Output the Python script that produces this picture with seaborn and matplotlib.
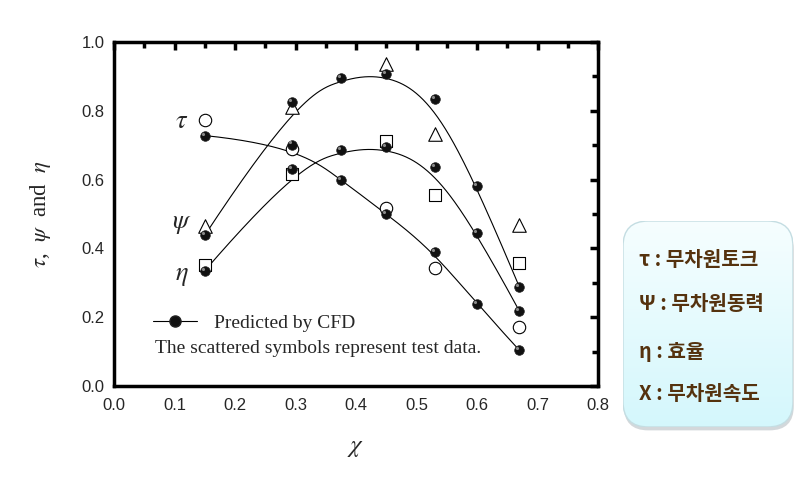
import numpy as np
import pandas as pd
import matplotlib
matplotlib.use("Agg")
import matplotlib.pyplot as plt
import seaborn as sns
from matplotlib.lines import Line2D
from matplotlib.patches import FancyBboxPatch

# ---------------- data ----------------
x_cfd = [0.15, 0.295, 0.375, 0.45, 0.53, 0.60, 0.67]
tau_cfd = [0.728, 0.702, 0.600, 0.500, 0.390, 0.238, 0.104]
psi_cfd = [0.438, 0.826, 0.896, 0.908, 0.834, 0.581, 0.288]
eta_cfd = [0.335, 0.630, 0.686, 0.694, 0.636, 0.444, 0.218]

x_test = [0.15, 0.295, 0.45, 0.53, 0.67]
tau_test = [0.772, 0.690, 0.516, 0.342, 0.172]
psi_test = [0.465, 0.810, 0.936, 0.732, 0.468]
eta_test = [0.353, 0.617, 0.712, 0.556, 0.357]

x_ticks = [0.0, 0.1, 0.2, 0.3, 0.4, 0.5, 0.6, 0.7, 0.8]
y_ticks = [0.0, 0.2, 0.4, 0.6, 0.8, 1.0]
box_lines = ["τ : 무차원토크", "Ψ : 무차원동력", "η : 효율", "X : 무차원속도"]


def bspline(xc, yc, n=300, k=3):
    """Clamped uniform B-spline using the points as control points."""
    xc = np.asarray(xc, float)
    yc = np.asarray(yc, float)
    m = len(xc)
    knots = np.concatenate([[0.0] * k, np.arange(m - k + 1, dtype=float), [float(m - k)] * k])
    t = np.linspace(0, m - k - 1e-9, n)

    def N(i, d):
        if d == 0:
            return ((knots[i] <= t) & (t < knots[i + 1])).astype(float)
        out = np.zeros_like(t)
        den1 = knots[i + d] - knots[i]
        den2 = knots[i + d + 1] - knots[i + 1]
        if den1 > 0:
            out += (t - knots[i]) / den1 * N(i, d - 1)
        if den2 > 0:
            out += (knots[i + d + 1] - t) / den2 * N(i + 1, d - 1)
        return out

    B = np.array([N(i, k) for i in range(m)])
    return B.T @ xc, B.T @ yc


# ---------------- style ----------------
sns.set_style("white")
plt.rcParams["font.family"] = ["Liberation Serif", "DejaVu Serif"]
plt.rcParams["mathtext.fontset"] = "stix"

fig = plt.figure(figsize=(8.12, 4.84), dpi=100)
ax = fig.add_axes([114 / 812, 1 - 386 / 484, (598 - 114) / 812, (386 - 42) / 484])

# smooth B-spline curves
for ys in (tau_cfd, psi_cfd, eta_cfd):
    cx, cy = bspline(x_cfd, ys)
    sns.lineplot(x=cx, y=cy, ax=ax, color="black", lw=0.8, zorder=2, sort=False,
                 estimator=None)

# CFD points (dark balls with a small highlight)
for ys in (tau_cfd, psi_cfd, eta_cfd):
    sns.scatterplot(x=x_cfd, y=ys, ax=ax, color="#111111", s=48, marker="o",
                    edgecolor="#222222", linewidth=0.5, zorder=4)
    sns.scatterplot(x=np.array(x_cfd) - 0.0035, y=np.array(ys) + 0.006, ax=ax,
                    color="#8a8a8a", s=5, marker="o", linewidth=0, zorder=5)

# test data
sns.scatterplot(x=x_test, y=tau_test, ax=ax, marker="o", s=80, facecolor="white",
                edgecolor="black", linewidth=0.8, zorder=3)
sns.scatterplot(x=x_test, y=psi_test, ax=ax, marker="^", s=95, facecolor="white",
                edgecolor="black", linewidth=0.8, zorder=3)
sns.scatterplot(x=x_test, y=eta_test, ax=ax, marker="s", s=70, facecolor="white",
                edgecolor="black", linewidth=0.8, zorder=3)

# axes
ax.set_xlim(0.0, 0.8)
ax.set_ylim(0.0, 1.0)
ax.set_xticks(x_ticks)
ax.set_yticks(y_ticks)
ax.set_xticks(np.arange(0.05, 0.8, 0.1), minor=True)
ax.set_yticks(np.arange(0.1, 1.0, 0.2), minor=True)
ax.set_xticklabels([f"{v:.1f}" for v in x_ticks], family="Liberation Sans", fontsize=12)
ax.set_yticklabels([f"{v:.1f}" for v in y_ticks], family="Liberation Sans", fontsize=12)
ax.tick_params(which="both", direction="in", top=True, right=True, width=2.5, color="black")
ax.tick_params(which="major", length=6)
ax.tick_params(axis="x", which="major", pad=9)
ax.tick_params(axis="y", which="major", pad=7)
ax.tick_params(which="minor", length=4)
for sp in ax.spines.values():
    sp.set_linewidth(2.5)
    sp.set_color("black")

ax.set_xlabel(r"$\chi$", fontsize=18, labelpad=17)
ax.set_ylabel(r"$\tau$,  $\psi$  and  $\eta$", fontsize=16.5, labelpad=20)

# curve labels
ax.text(0.112, 0.768, r"$\tau$", fontsize=19, ha="center", va="center")
ax.text(0.112, 0.468, r"$\psi$", fontsize=19, ha="center", va="center")
ax.text(0.112, 0.318, r"$\eta$", fontsize=19, ha="center", va="center")

# legend
handle = Line2D([], [], color="black", lw=0.8, marker="o", markersize=8,
                markerfacecolor="#111111", markeredgecolor="#222222")
leg = ax.legend([handle], ["Predicted by CFD"], loc="center left",
                bbox_to_anchor=(0.08, 0.183), frameon=False, fontsize=14,
                handlelength=2.3, handletextpad=0.85, borderaxespad=0, borderpad=0)
ax.text(0.068, 0.108, "The scattered symbols represent test data.", fontsize=14,
        ha="left", va="center", transform=ax.transData)

# right-hand info box with gradient
L, R, T, B = 623, 793, 221, 427
bx0, by0, bw, bh = L / 812, 1 - B / 484, (R - L) / 812, (B - T) / 484
shadow = FancyBboxPatch((bx0 + 0.001, by0 - 0.007), bw, bh,
                        boxstyle="round,pad=0,rounding_size=0.03",
                        transform=fig.transFigure, facecolor="#c9cfd2",
                        edgecolor="none", zorder=-1, mutation_aspect=812 / 484, alpha=0.8)
fig.patches.append(shadow)
bax = fig.add_axes([bx0, by0, bw, bh], zorder=2)
bax.set_axis_off()
grad = np.linspace(0, 1, 256).reshape(-1, 1)
cmap = matplotlib.colors.LinearSegmentedColormap.from_list("g", ["#f6feff", "#d4f7fc"])
im = bax.imshow(grad, aspect="auto", cmap=cmap, extent=[0, 1, 0, 1], origin="upper")
bax.set_xlim(0, 1)
bax.set_ylim(0, 1)
clip = FancyBboxPatch((0, 0), 1, 1, boxstyle="round,pad=0,rounding_size=0.15",
                      transform=bax.transAxes, facecolor="none", edgecolor="#c4dde2",
                      lw=1.0, mutation_aspect=bw * 812 / (bh * 484))
bax.add_patch(clip)
im.set_clip_path(clip)

ys_box = [260, 303, 351, 394]
for txt, ypx in zip(box_lines, ys_box):
    fig.text(639 / 812, 1 - ypx / 484, txt, fontsize=14.5, fontweight="bold",
             color="#55320e", ha="left", va="center", zorder=5,
             family=["Noto Sans CJK KR", "DejaVu Sans"])

fig.savefig("out.png", dpi=100)
